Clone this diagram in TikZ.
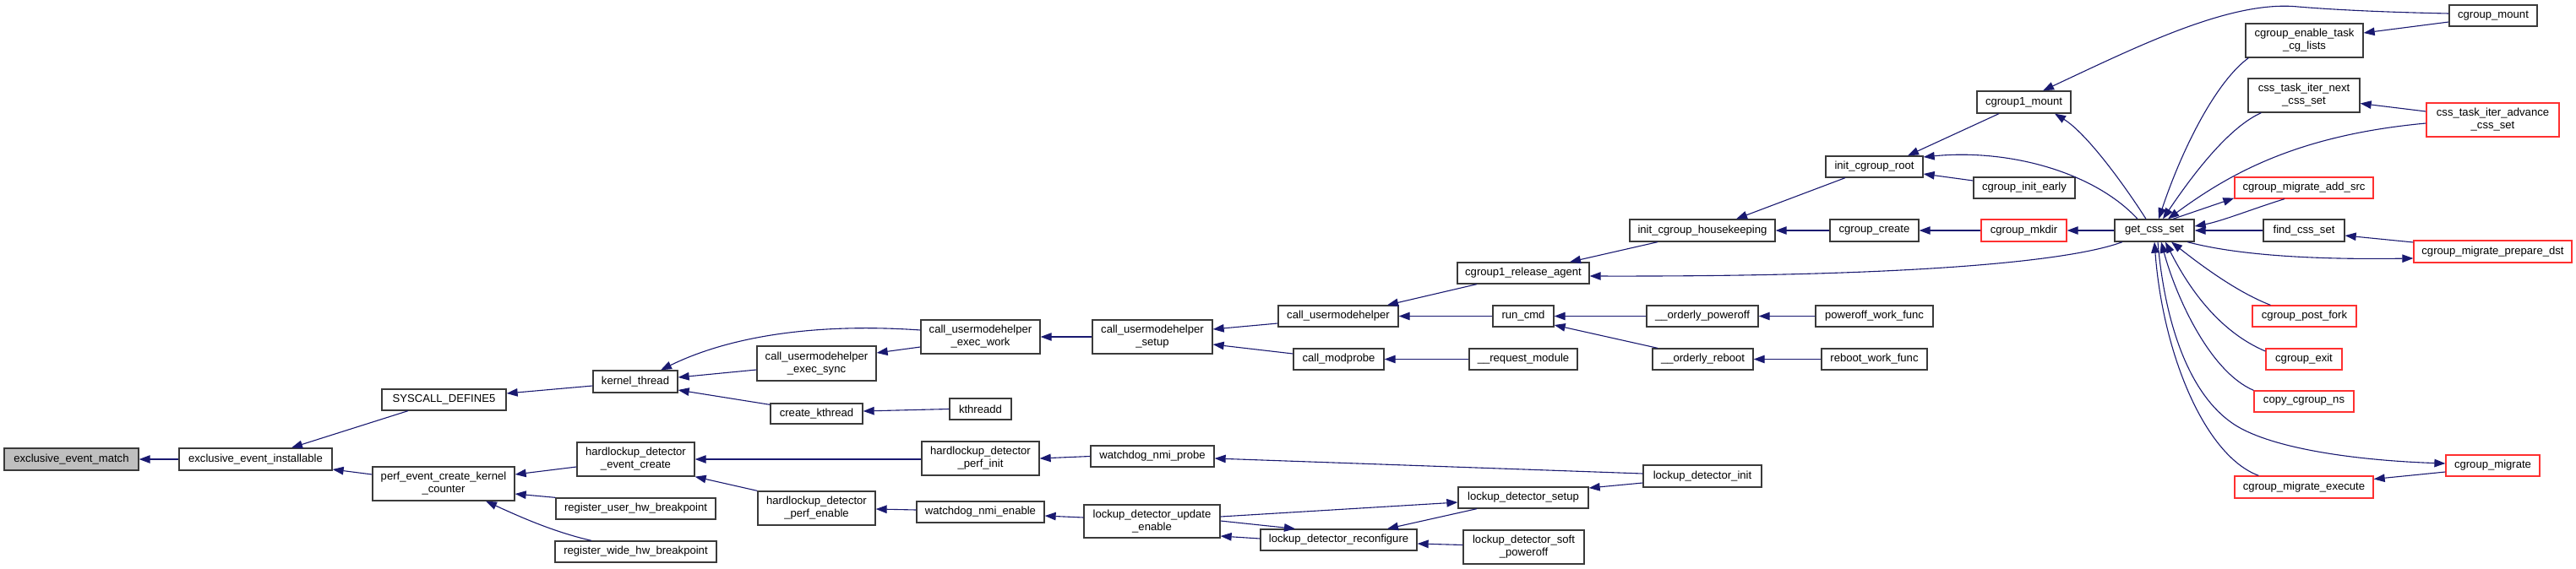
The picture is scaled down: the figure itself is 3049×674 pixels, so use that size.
\documentclass[tikz,border=0pt]{standalone}
\usepackage{fontspec}
\setmainfont{Liberation Sans}
\usetikzlibrary{arrows.meta}
\definecolor{edgec}{HTML}{191970}
\definecolor{bordc}{HTML}{3A3A3A}
\definecolor{redc}{HTML}{FF3030}
\definecolor{rootc}{HTML}{BFBFBF}
\tikzset{
  box/.style={draw=bordc, line width=1.3pt, inner sep=0pt, align=center,
    font=\fontsize{13.1}{15}\selectfont, text=black},
  redbox/.style={box, draw=redc},
  rootbox/.style={box, fill=rootc},
  edge/.style={draw=edgec, line width=1.1pt, {Triangle[length=13pt,width=9.5pt]}-},
}
\begin{document}
\begin{tikzpicture}[x=1pt,y=-1pt]
\useasboundingbox (0,0) rectangle (3049,674);
% nodes
\node[rootbox, minimum width=159pt, minimum height=26pt] (n1) at (84.5,544) {exclusive\_event\_match};
\node[box, minimum width=181pt, minimum height=26pt] (n2) at (302.5,544) {exclusive\_event\_installable};
\node[box, minimum width=147pt, minimum height=25pt] (n3) at (525.5,473.5) {SYSCALL\_DEFINE5};
\node[box, minimum width=168pt, minimum height=40pt] (n4) at (525,573) {perf\_event\_create\_kernel\\\_counter};
\node[box, minimum width=100pt, minimum height=26pt] (n5) at (752,452) {kernel\_thread};
\node[box, minimum width=141pt, minimum height=41pt] (n6) at (966.5,430.5) {call\_usermodehelper\\\_exec\_sync};
\node[box, minimum width=109pt, minimum height=24pt] (n7) at (966.5,490) {create\_kthread};
\node[box, minimum width=139pt, minimum height=40pt] (n8) at (752.5,544) {hardlockup\_detector\\\_event\_create};
\node[box, minimum width=189pt, minimum height=25pt] (n9) at (752.5,602.5) {register\_user\_hw\_breakpoint};
\node[box, minimum width=191pt, minimum height=25pt] (n10) at (752.5,653.5) {register\_wide\_hw\_breakpoint};
\node[box, minimum width=139pt, minimum height=40pt] (n11) at (966.5,602) {hardlockup\_detector\\\_perf\_enable};
\node[box, minimum width=141pt, minimum height=40pt] (n12) at (1160.5,399) {call\_usermodehelper\\\_exec\_work};
\node[box, minimum width=142pt, minimum height=40pt] (n13) at (1364,399) {call\_usermodehelper\\\_setup};
\node[box, minimum width=73pt, minimum height=25pt] (n14) at (1160.5,484.5) {kthreadd};
\node[box, minimum width=139pt, minimum height=40pt] (n15) at (1160.5,543) {hardlockup\_detector\\\_perf\_init};
\node[box, minimum width=146pt, minimum height=25pt] (n16) at (1364,540.5) {watchdog\_nmi\_probe};
\node[box, minimum width=151pt, minimum height=25pt] (n17) at (1160.5,606.5) {watchdog\_nmi\_enable};
\node[box, minimum width=161pt, minimum height=39pt] (n18) at (1363.5,617.5) {lockup\_detector\_update\\\_enable};
\node[box, minimum width=185pt, minimum height=25pt] (n19) at (1584.5,639.5) {lockup\_detector\_reconfigure};
\node[box, minimum width=142pt, minimum height=25pt] (n20) at (1584,374.5) {call\_usermodehelper};
\node[box, minimum width=107pt, minimum height=25pt] (n21) at (1584.5,425.5) {call\_modprobe};
\node[box, minimum width=156pt, minimum height=25pt] (n22) at (1803,323.5) {cgroup1\_release\_agent};
\node[box, minimum width=72pt, minimum height=25pt] (n23) at (1803,374.5) {run\_cmd};
\node[box, minimum width=128pt, minimum height=25pt] (n24) at (1803,425.5) {\_\_request\_module};
\node[box, minimum width=154pt, minimum height=25pt] (n25) at (1803,589.5) {lockup\_detector\_setup};
\node[box, minimum width=143pt, minimum height=40pt] (n26) at (1803.5,648) {lockup\_detector\_soft\\\_poweroff};
\node[box, minimum width=172pt, minimum height=26pt] (n27) at (2015,273) {init\_cgroup\_housekeeping};
\node[box, minimum width=132pt, minimum height=25pt] (n28) at (2015,374.5) {\_\_orderly\_poweroff};
\node[box, minimum width=119pt, minimum height=25pt] (n29) at (2015.5,425.5) {\_\_orderly\_reboot};
\node[box, minimum width=140pt, minimum height=26pt] (n30) at (2015,564) {lockup\_detector\_init};
\node[box, minimum width=115pt, minimum height=25pt] (n31) at (2218.5,197.5) {init\_cgroup\_root};
\node[box, minimum width=105pt, minimum height=26pt] (n32) at (2218.5,273) {cgroup\_create};
\node[box, minimum width=139pt, minimum height=25pt] (n33) at (2218.5,374.5) {poweroff\_work\_func};
\node[box, minimum width=125pt, minimum height=25pt] (n34) at (2218.5,425.5) {reboot\_work\_func};
\node[box, minimum width=111pt, minimum height=26pt] (n35) at (2395.5,121) {cgroup1\_mount};
\node[box, minimum width=120pt, minimum height=25pt] (n36) at (2396,222.5) {cgroup\_init\_early};
\node[redbox, minimum width=101pt, minimum height=26pt] (n37) at (2395.5,273) {cgroup\_mkdir};
\node[box, minimum width=94pt, minimum height=26pt] (n38) at (2550,273) {get\_css\_set};
\node[box, minimum width=104pt, minimum height=25pt] (n39) at (2951,18.5) {cgroup\_mount};
\node[box, minimum width=139pt, minimum height=40pt] (n40) at (2727.5,48) {cgroup\_enable\_task\\\_cg\_lists};
\node[box, minimum width=132pt, minimum height=40pt] (n41) at (2727,113) {css\_task\_iter\_next\\\_css\_set};
\node[redbox, minimum width=157pt, minimum height=40pt] (n42) at (2950.5,142) {css\_task\_iter\_advance\\\_css\_set};
\node[redbox, minimum width=164pt, minimum height=25pt] (n43) at (2727,222.5) {cgroup\_migrate\_add\_src};
\node[box, minimum width=96pt, minimum height=26pt] (n44) at (2727,273) {find\_css\_set};
\node[redbox, minimum width=187pt, minimum height=26pt] (n45) at (2950.5,298) {cgroup\_migrate\_prepare\_dst};
\node[redbox, minimum width=123pt, minimum height=25pt] (n46) at (2727.5,374.5) {cgroup\_post\_fork};
\node[redbox, minimum width=90pt, minimum height=25pt] (n47) at (2727,425.5) {cgroup\_exit};
\node[redbox, minimum width=118pt, minimum height=25pt] (n48) at (2727,475.5) {copy\_cgroup\_ns};
\node[redbox, minimum width=111pt, minimum height=25pt] (n49) at (2950.5,551.5) {cgroup\_migrate};
\node[redbox, minimum width=164pt, minimum height=26pt] (n50) at (2727,577) {cgroup\_migrate\_execute};
% edges
\draw[edge] (n1.east) -- (n2.west);
\draw[edge] ([xshift=42.5pt]n2.north) -- ([xshift=-42.5pt]n3.south);
\draw[edge] ([yshift=-12pt]n2.east) -- ([yshift=11pt]n4.west);
\draw[edge] ([yshift=7.5pt]n3.east) -- ([yshift=-5pt]n5.west);
\draw[edge] ([yshift=11pt]n4.east) -- ([yshift=-9pt]n8.west);
\draw[edge] ([yshift=-12pt]n4.east) -- (n9.north west);
\draw[edge] ([xshift=50pt]n4.south) .. controls (615,612) and (655,630) .. ([xshift=-52.5pt]n10.north);
\draw[edge] ([xshift=30pt]n5.north) .. controls (860,400) and (960,382) .. ([yshift=8pt]n12.west);
\draw[edge] ([yshift=5pt]n5.east) -- ([yshift=-7.5pt]n6.west);
\draw[edge] ([yshift=-10pt]n5.east) -- ([yshift=-2pt]n7.north west);
\draw[edge] (n8.east) -- (n8.east -| n15.west);
\draw[edge] (n8.south east) -- (n11.north west);
\draw[edge] ([yshift=12.5pt]n6.east) -- ([yshift=-12pt]n12.west);
\draw[edge] ([yshift=3pt]n7.east) -- (n14.west);
\draw[edge] (n12.east) -- (n13.west);
\draw[edge] (n15.east) -- (n16.west);
\draw[edge] ([yshift=-1pt]n11.east) -- ([yshift=2.5pt]n17.west);
\draw[edge] ([yshift=9pt]n13.east) -- ([yshift=-8.5pt]n20.west);
\draw[edge] ([yshift=-9pt]n13.east) -- ([yshift=6.5pt]n21.west);
\draw[edge] ([yshift=-2.5pt]n16.east) -- ([yshift=3pt]n30.west);
\draw[edge] ([yshift=-4.5pt]n17.east) -- ([yshift=4.5pt]n18.west);
\draw[edge] ([yshift=-17.5pt]n18.east) -- ([yshift=1.5pt]n19.west);
\draw[edge] ([yshift=-5.5pt]n25.west) -- ([yshift=5.5pt]n18.east);
\draw[edge] ([xshift=-51.5pt]n19.north) -- ([yshift=0.5pt]n18.east);
\draw[edge] ([xshift=57.5pt]n19.north) -- ([xshift=-55pt]n25.south);
\draw[edge] ([yshift=-4.5pt]n19.east) -- ([yshift=2.5pt]n26.west);
\draw[edge] ([yshift=11.5pt]n25.east) -- ([yshift=-8pt]n30.west);
\draw[edge] ([xshift=58pt]n20.north) -- ([xshift=-55pt]n22.south);
\draw[edge] (n20.east) -- (n23.west);
\draw[edge] (n21.east) -- (n24.west);
\draw[edge] ([xshift=55pt]n22.north) -- ([xshift=-53pt]n27.south);
\draw[edge] ([yshift=-3.5pt]n22.east) .. controls (2300,328) and (2460,306) .. ([xshift=-38pt]n38.south);
\draw[edge] (n23.east) -- (n28.west);
\draw[edge] ([yshift=-10.5pt]n23.east) -- ([xshift=-53.5pt]n29.north);
\draw[edge] ([xshift=40pt]n27.north) -- ([xshift=-34.5pt]n31.south);
\draw[edge] (n27.east) -- (n32.west);
\draw[edge] (n28.east) -- (n33.west);
\draw[edge] (n29.east) -- (n34.west);
\draw[edge] ([xshift=39.5pt]n31.north) -- ([xshift=-29.5pt]n35.south);
\draw[edge] ([yshift=11.5pt]n31.east) .. controls (2380,176) and (2480,205) .. ([xshift=-20pt]n38.north);
\draw[edge] ([yshift=-8.5pt]n31.east) -- ([yshift=8.5pt]n36.west);
\draw[edge] (n32.east) -- (n37.west);
\draw[edge] (n37.east) -- (n38.west);
\draw[edge] ([xshift=22.5pt]n35.north) .. controls (2530,55) and (2640,0) .. (2720,8) .. controls (2780,13) and (2850,15) .. ([yshift=2.5pt]n39.west);
\draw[edge] ([xshift=36.5pt]n35.south) .. controls (2470,158) and (2515,220) .. ([xshift=-10pt]n38.north);
\draw[edge] ([xshift=5pt]n38.north) .. controls (2585,170) and (2625,95) .. ([xshift=4pt]n40.south west);
\draw[edge] ([yshift=9pt]n40.east) -- ([yshift=-7.5pt]n39.west);
\draw[edge] ([xshift=10pt]n38.north) .. controls (2600,200) and (2640,150) .. ([xshift=16pt]n41.south west);
\draw[edge] ([yshift=-9.5pt]n41.east) -- ([yshift=10pt]n42.west);
\draw[edge] ([xshift=16pt]n38.north) .. controls (2640,205) and (2720,160) .. ([yshift=-4pt]n42.west);
\draw[edge] ([yshift=1pt]n43.south west) -- ([xshift=22pt]n38.north);
\draw[edge] ([yshift=5pt]n38.east) .. controls (2630,262) and (2670,246) .. ([xshift=-23pt]n43.south);
\draw[edge] (n38.east) -- (n44.west);
\draw[edge] ([yshift=-6pt]n44.east) -- ([yshift=11pt]n45.west);
\draw[edge] ([yshift=-8pt]n45.west) .. controls (2720,308) and (2640,300) .. ([xshift=39pt]n38.south);
\draw[edge] ([xshift=20pt]n38.south) .. controls (2600,310) and (2645,345) .. ([xshift=22pt]n46.north west);
\draw[edge] ([xshift=13pt]n38.south) .. controls (2585,330) and (2620,390) .. ([yshift=9.5pt]n47.west);
\draw[edge] ([xshift=8pt]n38.south) .. controls (2575,350) and (2615,440) .. (n48.north west);
\draw[edge] ([yshift=2.5pt]n49.west) .. controls (2780,545) and (2690,530) .. (2648,505) .. controls (2590,470) and (2562,380) .. ([xshift=4pt]n38.south);
\draw[edge] (n38.south) .. controls (2560,420) and (2610,540) .. ([xshift=29pt]n50.north west);
\draw[edge] ([yshift=9.5pt]n50.east) -- ([yshift=-7.5pt]n49.west);
\end{tikzpicture}
\end{document}
